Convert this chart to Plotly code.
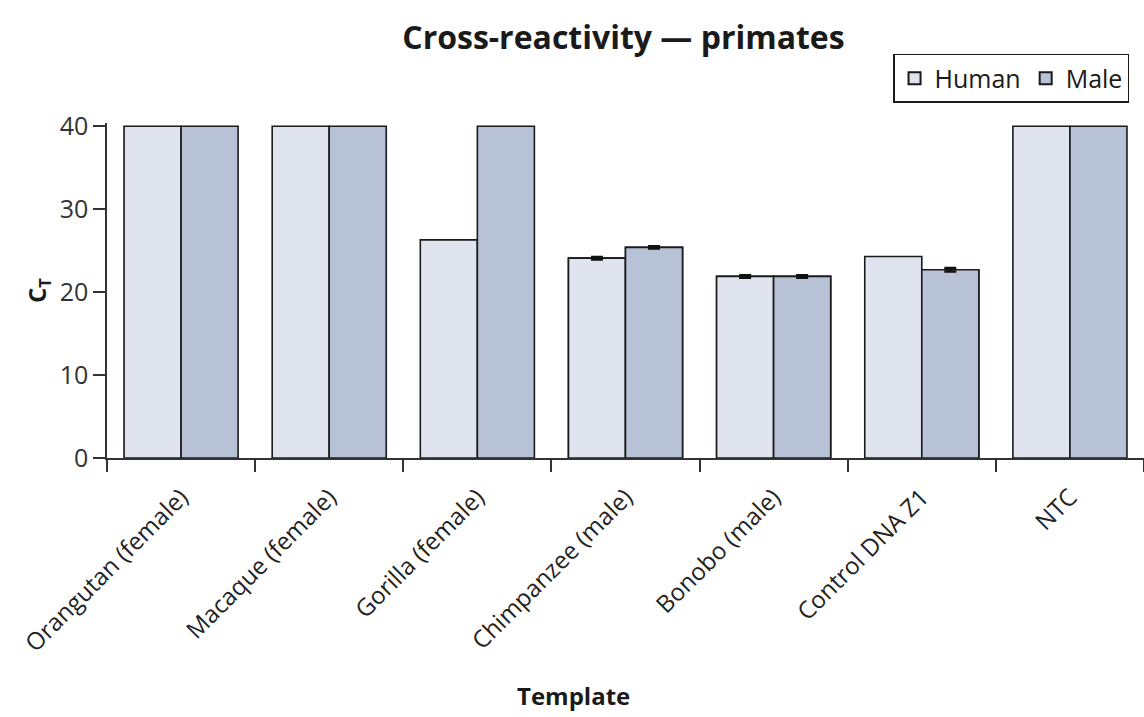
import plotly.graph_objects as go

categories = ["Orangutan (female)", "Macaque (female)", "Gorilla (female)",
              "Chimpanzee (male)", "Bonobo (male)", "Control DNA Z1", "NTC"]
human_ct = [40, 40, 26.3, 24.1, 21.9, 24.3, 40]
male_ct = [40, 40, 40, 25.4, 21.9, 22.7, 40]
# standard deviations (only shown where present)
human_err = [None, None, None, 0.15, 0.15, None, None]
male_err = [None, None, None, 0.15, 0.15, 0.2, None]

FONT = "Open Sans"
HUMAN_COLOR = "#e0e4ef"
MALE_COLOR = "#b8c2d7"
OUTLINE = dict(color="#1a1a1a", width=1.6)

fig = go.Figure()


def add_series(name, values, errs, color, group):
    fig.add_trace(go.Bar(
        name=name, x=categories, y=values, offsetgroup=group,
        marker=dict(color=color, line=OUTLINE),
    ))
    # overlay the points that carry error bars (same offset group -> same position)
    ex = [c for c, e in zip(categories, errs) if e is not None]
    ey = [v for v, e in zip(values, errs) if e is not None]
    ee = [e for e in errs if e is not None]
    fig.add_trace(go.Bar(
        name=name, x=ex, y=ey, offsetgroup=group, showlegend=False,
        marker=dict(color=color, line=OUTLINE),
        error_y=dict(type="data", array=ee, visible=True, color="#111",
                     thickness=2.5, width=6),
    ))


add_series("Human", human_ct, human_err, HUMAN_COLOR, "h")
add_series("Male", male_ct, male_err, MALE_COLOR, "m")

fig.update_layout(
    width=1144, height=717,
    margin=dict(l=107, r=0, t=123, b=259, autoexpand=False),
    paper_bgcolor="white", plot_bgcolor="white",
    barmode="group", bargap=0.23, bargroupgap=0,
    font=dict(family=FONT, color="#222"),
    title=dict(text="<b>Cross-reactivity — primates</b>", x=0.545, xanchor="center",
               y=0.947, yanchor="middle", font=dict(size=32, color="#1a1a1a")),
    showlegend=True,
    legend=dict(orientation="h", x=0.758, xanchor="left", y=1.06, yanchor="bottom",
                bordercolor="#1a1a1a", borderwidth=1.5, bgcolor="white",
                font=dict(size=25, color="#1a1a1a"), traceorder="normal",
                itemsizing="constant", itemwidth=30),
    xaxis=dict(
        type="category", range=[-0.5, 6.5], tickson="boundaries",
        ticks="outside", ticklen=12, tickwidth=1.5, tickcolor="#333",
        showline=True, linecolor="#333", linewidth=1.5,
        tickangle=-45, tickfont=dict(size=24, color="#222"),
        ticklabelstandoff=14,
        showgrid=False, zeroline=False, automargin=False,
    ),
    yaxis=dict(
        range=[0, 40.4], tickvals=[0, 10, 20, 30, 40],
        ticks="outside", ticklen=12, tickwidth=1.5, tickcolor="#333",
        showline=True, linecolor="#333", linewidth=1.5,
        tickfont=dict(size=25, color="#333"),
        title=dict(text="<b>C<sub>T</sub></b>", font=dict(size=24, color="#1a1a1a"), standoff=6),
        showgrid=False, zeroline=False, automargin=False,
    ),
    annotations=[dict(text="<b>Template</b>", xref="paper", yref="paper",
                      x=0.45, y=-0.71, xanchor="center", yanchor="middle",
                      showarrow=False, font=dict(size=24, color="#1a1a1a"))],
)

fig.write_html("out.html")
